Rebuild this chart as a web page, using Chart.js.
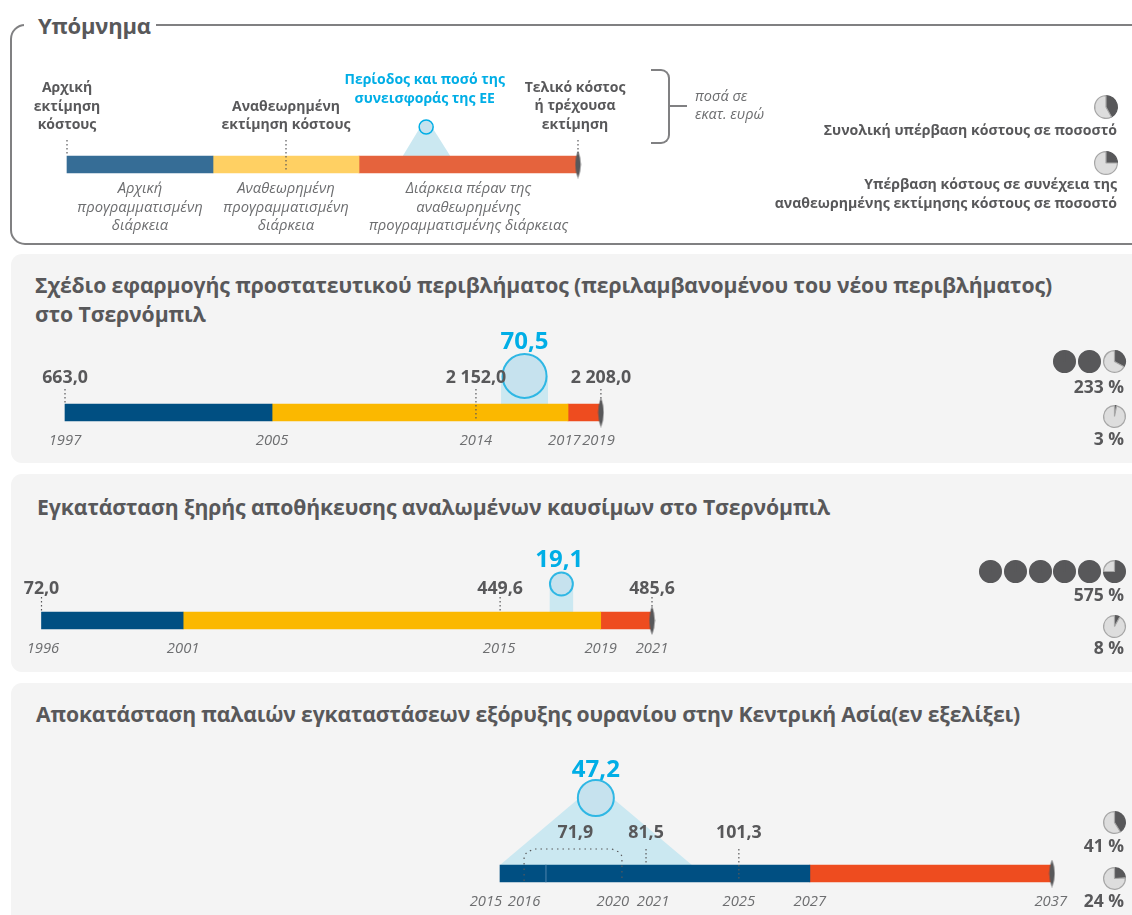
<!DOCTYPE html>
<html lang="el">
<head>
<meta charset="utf-8">
<title>Υπόμνημα</title>
<script src="https://cdn.jsdelivr.net/npm/chart.js@4"></script>
<style>
  html, body { margin: 0; padding: 0; background: #fff; }
  #page { position: relative; width: 1132px; height: 915px; overflow: hidden; font-family: "Open Sans", sans-serif; color: #58585a; }
  #page canvas { position: absolute; }
  .t { position: absolute; white-space: nowrap; line-height: 1; transform: translateY(-50%); }
  .b { font-weight: 700; }
  .panel { position: absolute; left: 11px; width: 1140px; background: #f4f4f4; border-radius: 11px; }
</style>
</head>
<body>
<div id="page"></div>
<script>
// ── Data ─────────────────────────────────────────────

// legend: schematic duration units, not real years
const legendSpans = [0, 2, 4, 7];
const legendMarks = [0, 3, 7];
const legendTickPos = [1, 3, 5.5];
const legendTickLabels = [
  ['Αρχική', 'προγραμματισμένη', 'διάρκεια'],
  ['Αναθεωρημένη', 'προγραμματισμένη', 'διάρκεια'],
  ['Διάρκεια πέραν της', 'αναθεωρημένης', 'προγραμματισμένης διάρκειας'],
];
const legendEuBand = [4.6, 4.84, 5.0, 5.25];
const legendPies = [42, 25];

// shelter implementation plan
const shelterSpans = [1997, 2005.5, 2017.65, 2019];
const shelterCostYears = [1997, 2013.87, 2019];
const shelterCosts = [663.0, 2152.0, 2208.0];
const shelterTickYears = [1997, 2005.5, 2013.87, 2017.5, 2018.9];
const shelterTickLabels = ['1997', '2005', '2014', '2017', '2019'];
const shelterEuYears = [2014.9, 2016.83];
const shelterEu = 70.5;
const shelterOverrun = [233, 3];

// spent fuel storage
const storageSpans = [1996, 2001.8, 2018.9, 2021];
const storageCostYears = [1996, 2014.78, 2021];
const storageCosts = [72.0, 449.6, 485.6];
const storageTickYears = [1996.06, 2001.8, 2014.74, 2018.9, 2021];
const storageTickLabels = ['1996', '2001', '2015', '2019', '2021'];
const storageEuYears = [2016.8, 2017.78];
const storageEu = 19.1;
const storageOverrun = [575, 8];

// uranium mining sites, central asia
const uraniumSpans = [2015, 2016.83, 2027.35, 2037];
const uraniumCostYears = [2018, 2020.82, 2024.52];
const uraniumCosts = [71.9, 81.5, 101.3];
const uraniumBracketYears = [2015.96, 2019.86];
const uraniumTickYears = [2014.44, 2015.96, 2019.5, 2021.1, 2024.52, 2027.35, 2036.95];
const uraniumTickLabels = ['2015', '2016', '2020', '2021', '2025', '2027', '2037'];
const uraniumEuYears = [2015, 2018.82, 2022.65];
const uraniumEu = 47.2;
const uraniumOverrun = [41, 24];

// ── Helpers ──────────────────────────────────────────

const page = document.getElementById('page');
const DARK = '#58585a', MID = '#6d6e70', CYAN = '#00aee6', BAND = '#cbe8f1', BUBBLE = '#c6e2ee';
const FF = '"Open Sans", sans-serif';
const solid = ['#004f82', '#fbb800', '#ee4c1f'];
const faded = ['#366d96', '#ffd063', '#e5633d'];

function el(cls, css, text) {
  const d = document.createElement('div');
  d.className = cls;
  d.style.cssText = css;
  if (text) d.textContent = text;
  page.appendChild(d);
  return d;
}

function fmtCost(v) {
  const s = v.toFixed(1).replace('.', ',');
  return s.replace(/^(\d)(\d{3})/, '$1 $2');
}

function euRadius(v) { return 2.62 * Math.sqrt(v); }

/** Thin grey lens that closes each bar */
function lensImage(h) {
  const c = document.createElement('canvas');
  c.width = 7; c.height = h;
  const ctx = c.getContext('2d');
  ctx.fillStyle = DARK;
  ctx.beginPath();
  ctx.moveTo(3.5, 0);
  ctx.quadraticCurveTo(9, h / 2, 3.5, h);
  ctx.quadraticCurveTo(-2, h / 2, 3.5, 0);
  ctx.fill();
  return c;
}

function textPlugin(items) {
  return {
    id: 'markText',
    afterDatasetsDraw(chart) {
      const { ctx, scales: { x, y } } = chart;
      ctx.save();
      ctx.textBaseline = 'middle';
      ctx.textAlign = 'center';
      items.forEach(it => {
        ctx.font = it.font;
        ctx.fillStyle = it.color;
        ctx.fillText(it.text, x.getPixelForValue(it.x), y.getPixelForValue(it.y));
      });
      ctx.restore();
    },
  };
}

const leader = (x, y0, y1) => ({
  type: 'line', data: [{ x, y: y0 }, { x, y: y1 }],
  borderColor: DARK, borderWidth: 1.2, borderDash: [1.5, 2.5], pointRadius: 0, order: 2,
});

/** One timeline canvas. y is in pixels above the top of the bar. */
function timeline({ barTop, startX, startVal, pxPerUnit, spans, colors, ticks, labels, axisH, tickOpts, datasets, texts, lensH }) {
  const yMax = 110, yMin = -24, areaH = yMax - yMin;
  const cv = document.createElement('canvas');
  cv.width = 1132;
  cv.height = areaH + axisH;
  cv.style.cssText = `left:0;top:${barTop - yMax}px;width:1132px;height:${areaH + axisH}px`;
  page.appendChild(cv);
  const xMin = startVal - startX / pxPerUnit;
  const bars = spans.slice(0, -1).map((a, i) => ({
    type: 'bar', indexAxis: 'y', grouped: false, data: [{ x: [a, spans[i + 1]], y: -8.5 }],
    backgroundColor: colors[i], barThickness: 17, borderWidth: 0, order: 3,
  }));
  const lens = {
    type: 'line', data: [{ x: spans[spans.length - 1], y: -8.5 }], showLine: false,
    pointStyle: lensImage(lensH), pointRadius: 1, order: 1, clip: false,
  };
  return new Chart(cv, {
    type: 'bar',
    data: { datasets: [...bars, lens, ...datasets] },
    options: {
      responsive: false, animation: false, events: [],
      layout: { padding: 0, autoPadding: false },
      plugins: { legend: { display: false }, tooltip: { enabled: false } },
      scales: {
        x: {
          type: 'linear', min: xMin, max: xMin + 1132 / pxPerUnit, offset: false,
          grid: { display: false, drawTicks: false }, border: { display: false },
          afterBuildTicks(s) { s.ticks = ticks.map(value => ({ value })); },
          afterFit(s) { s.height = axisH; },
          ticks: {
            autoSkip: false, maxRotation: 0, padding: 4, color: MID,
            font: { family: FF, size: 14.8, style: 'italic' },
            callback: (v, i) => labels[i],
            ...tickOpts,
          },
        },
        y: { type: 'linear', min: yMin, max: yMax, display: false, offset: false, grid: { display: false } },
      },
    },
    plugins: [textPlugin(texts)],
  });
}

/** Row of small pies, one disc per started 100 %, right aligned */
function pies(pct, rightCx, cy, r) {
  const count = Math.floor(pct / 100) + 1;
  for (let i = 0; i < count; i++) {
    const part = i < count - 1 ? 100 : pct % 100;
    const cv = document.createElement('canvas');
    const size = 2 * r + 4;
    cv.width = cv.height = size;
    const cx = rightCx - (count - 1 - i) * 24.8;
    cv.style.cssText = `left:${cx - size / 2}px;top:${cy - size / 2}px;width:${size}px;height:${size}px`;
    page.appendChild(cv);
    new Chart(cv, {
      type: 'pie',
      data: { datasets: [{ data: [part, 100 - part], backgroundColor: [DARK, '#dddddd'], borderColor: [DARK, '#a6a6a6'], borderWidth: 1.2 }] },
      options: {
        responsive: false, animation: false, events: [],
        layout: { padding: 1 },
        plugins: { legend: { display: false }, tooltip: { enabled: false } },
      },
    });
  }
}

// ── Boxes ────────────────────────────────────────────

el('', 'position:absolute;left:10px;top:24px;width:1140px;height:217px;border:2px solid #808082;border-radius:15px');
el('', 'position:absolute;left:24px;top:4px;width:132px;height:40px;background:#fff');
el('t b', 'left:38px;top:25px;font-size:22px;letter-spacing:-.2px', 'Υπόμνημα');
el('panel', 'top:254px;height:209px');
el('panel', 'top:474px;height:198px');
el('panel', 'top:683px;height:260px');

const TITLE = 'font-size:21.2px;letter-spacing:-.09px';
el('t b', `left:35px;top:285px;${TITLE}`, 'Σχέδιο εφαρμογής προστατευτικού περιβλήματος (περιλαμβανομένου του νέου περιβλήματος)');
el('t b', `left:35px;top:314px;${TITLE}`, 'στο Τσερνόμπιλ');
el('t b', `left:37px;top:507px;${TITLE}`, 'Εγκατάσταση ξηρής αποθήκευσης αναλωμένων καυσίμων στο Τσερνόμπιλ');
el('t b', `left:36px;top:714px;font-size:21.2px;letter-spacing:-.17px`, 'Αποκατάσταση παλαιών εγκαταστάσεων εξόρυξης ουρανίου στην Κεντρική Ασία(εν εξελίξει)');

// ── Legend ───────────────────────────────────────────

const lb = 'bold 14px ' + FF;
timeline({
  barTop: 156, startX: 67, startVal: 0, pxPerUnit: 73,
  spans: legendSpans, colors: faded, lensH: 28,
  ticks: legendTickPos, labels: legendTickLabels, axisH: 64,
  tickOpts: { padding: 0, font: { family: FF, size: 14.8, style: 'italic', lineHeight: 1.25 } },
  datasets: [
    leader(legendMarks[0], 16, 0),
    leader(legendMarks[1], 16, -16),
    leader(legendMarks[2], 16, 0),
    {
      type: 'line', data: [0, 1, 2, 3].map(i => ({ x: legendEuBand[i], y: i === 1 || i === 2 ? 29 : 0 })),
      borderWidth: 0, backgroundColor: BAND, fill: 'origin', pointRadius: 0, order: 6,
    },
    {
      type: 'bubble', data: [{ x: 4.92, y: 29, r: 7 }],
      backgroundColor: BUBBLE, borderColor: CYAN, borderWidth: 1.5, order: 0,
    },
  ],
  texts: [
    { x: 0, y: 68, text: 'Αρχική', font: lb, color: DARK },
    { x: 0, y: 49, text: 'εκτίμηση', font: lb, color: DARK },
    { x: 0, y: 31, text: 'κόστους', font: lb, color: DARK },
    { x: 3, y: 49, text: 'Αναθεωρημένη', font: lb, color: DARK },
    { x: 3, y: 31, text: 'εκτίμηση κόστους', font: lb, color: DARK },
    { x: 4.9, y: 76, text: 'Περίοδος και ποσό της', font: lb, color: CYAN },
    { x: 4.9, y: 57, text: 'συνεισφοράς της ΕΕ', font: lb, color: CYAN },
    { x: 6.96, y: 68, text: 'Τελικό κόστος', font: lb, color: DARK },
    { x: 6.96, y: 50, text: 'ή τρέχουσα', font: lb, color: DARK },
    { x: 6.96, y: 31, text: 'εκτίμηση', font: lb, color: DARK },
  ],
});

el('', 'position:absolute;left:651px;top:69px;width:17px;height:71px;border:2px solid #808082;border-left:0;border-radius:0 9px 9px 0');
el('', 'position:absolute;left:670px;top:105px;width:17px;height:2px;background:#808082');
el('t', 'left:695px;top:96px;font-size:14.5px;font-style:italic;color:#6d6e70', 'ποσά σε');
el('t', 'left:695px;top:114px;font-size:14.5px;font-style:italic;color:#6d6e70', 'εκατ. ευρώ');

pies(legendPies[0], 1106, 107, 11);
pies(legendPies[1], 1106, 163, 11);
const RT = 'right:15px;font-size:14.1px;text-align:right';
el('t b', `${RT};top:130px`, 'Συνολική υπέρβαση κόστους σε ποσοστό');
el('t b', `${RT};top:184px`, 'Υπέρβαση κόστους σε συνέχεια της');
el('t b', `${RT};top:203px`, 'αναθεωρημένης εκτίμησης κόστους σε ποσοστό');

// ── Project timelines ────────────────────────────────

const vf = 'bold 17.8px ' + FF, ef = 'bold 24px ' + FF;
const labelOf = (years, costs, y) => years.map((x, i) => ({ x, y, text: fmtCost(costs[i]), font: vf, color: DARK }));
const euBubble = (x, y, v) => ({
  type: 'bubble', data: [{ x, y, r: euRadius(v) }],
  backgroundColor: BUBBLE, borderColor: '#2fb7e4', borderWidth: 2, order: 0,
});
const euRect = (yrs, h) => ({
  type: 'line',
  data: [{ x: yrs[0], y: 0 }, { x: yrs[0], y: h }, { x: yrs[1], y: h }, { x: yrs[1], y: 0 }],
  borderWidth: 0, backgroundColor: BAND, fill: 'origin', pointRadius: 0, order: 6,
});

timeline({
  barTop: 404, startX: 65, startVal: 1997, pxPerUnit: 24.36,
  spans: shelterSpans, colors: solid, lensH: 30,
  ticks: shelterTickYears, labels: shelterTickLabels, axisH: 26,
  datasets: [
    leader(shelterCostYears[0], 15, 0),
    leader(shelterCostYears[1], 15, -16),
    leader(shelterCostYears[2], 15, 0),
    euRect(shelterEuYears, 28),
    euBubble((shelterEuYears[0] + shelterEuYears[1]) / 2, 28, shelterEu),
  ],
  texts: [
    ...labelOf(shelterCostYears, shelterCosts, 26),
    { x: (shelterEuYears[0] + shelterEuYears[1]) / 2, y: 62, text: fmtCost(shelterEu), font: ef, color: CYAN },
  ],
});

timeline({
  barTop: 612, startX: 41.5, startVal: 1996, pxPerUnit: 24.42,
  spans: storageSpans, colors: solid, lensH: 29,
  ticks: storageTickYears, labels: storageTickLabels, axisH: 26,
  datasets: [
    leader(storageCostYears[0], 15, 0),
    leader(storageCostYears[1], 15, 0),
    leader(storageCostYears[2], 15, 0),
    euRect(storageEuYears, 28),
    euBubble((storageEuYears[0] + storageEuYears[1]) / 2, 28, storageEu),
  ],
  texts: [
    ...labelOf(storageCostYears, storageCosts, 23),
    { x: 2017.2, y: 52, text: fmtCost(storageEu), font: ef, color: CYAN },
  ],
});

timeline({
  barTop: 865, startX: 500, startVal: 2015, pxPerUnit: 25.09,
  spans: uraniumSpans, colors: [solid[0], solid[0], solid[2]], lensH: 28,
  ticks: uraniumTickYears, labels: uraniumTickLabels, axisH: 26,
  datasets: [
    {
      type: 'line',
      data: [
        { x: uraniumBracketYears[0], y: -16 }, { x: uraniumBracketYears[0], y: 9 }, { x: uraniumBracketYears[0] + 0.12, y: 13 },
        { x: uraniumBracketYears[0] + 0.4, y: 16 }, { x: uraniumBracketYears[1] - 0.4, y: 16 }, { x: uraniumBracketYears[1] - 0.12, y: 13 },
        { x: uraniumBracketYears[1], y: 9 }, { x: uraniumBracketYears[1], y: -16 },
      ],
      borderColor: DARK, borderWidth: 1.2, borderDash: [1.5, 4], pointRadius: 0, order: 2,
    },
    leader(uraniumCostYears[1], 16, 0),
    leader(uraniumCostYears[2], 16, -16),
    { ...leader(uraniumSpans[1], 0, -17), borderDash: [], borderColor: '#2f6f9c', borderWidth: 1 },
    {
      type: 'line', data: [{ x: uraniumEuYears[0], y: 0 }, { x: uraniumEuYears[1], y: 81 }, { x: uraniumEuYears[2], y: 0 }],
      borderWidth: 0, backgroundColor: BAND, fill: 'origin', pointRadius: 0, order: 6,
    },
    euBubble(uraniumEuYears[1], 67, uraniumEu),
  ],
  texts: [
    ...labelOf(uraniumCostYears, uraniumCosts, 32),
    { x: uraniumEuYears[1], y: 95, text: fmtCost(uraniumEu), font: ef, color: CYAN },
  ],
});

// ── Overrun pies and percentages ─────────────────────

const PCT = 'right:8px;font-size:17.5px;text-align:right';
function overrun(pct, cy, ty) {
  pies(pct, 1114.5, cy, 10.5);
  el('t b', `${PCT};top:${ty}px`, pct + ' %');
}
overrun(shelterOverrun[0], 361, 387);
overrun(shelterOverrun[1], 416, 439);
overrun(storageOverrun[0], 571, 595);
overrun(storageOverrun[1], 626, 648);
overrun(uraniumOverrun[0], 822, 846);
overrun(uraniumOverrun[1], 878, 901);
</script>
</body>
</html>
